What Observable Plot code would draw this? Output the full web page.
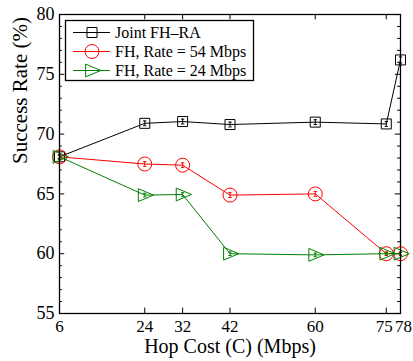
<!DOCTYPE html>
<html><head><meta charset="utf-8">
<script src="https://cdn.jsdelivr.net/npm/d3@7"></script>
<script src="https://cdn.jsdelivr.net/npm/@observablehq/plot@0.6"></script>
<style>
body{margin:0;background:#fff;}
#wrap{position:relative;width:413px;height:361px;font-family:"Liberation Serif","Times New Roman",serif;}
#legend{position:absolute;left:0;top:0;}
</style></head>
<body><div id="wrap"></div>
<script>
const hopCost = [6, 24, 32, 42, 60, 75, 78];
const jointFHRA = [68.1, 70.9, 71.05, 70.8, 71.0, 70.85, 76.2];
const fhRate54 = [68.1, 67.5, 67.4, 64.9, 65.0, 60.0, 60.0];
const fhRate24 = [68.1, 64.9, 64.95, 60.0, 59.9, 60.0, 60.0];
const errJoint = [0.2, 0.2, 0.2, 0.2, 0.2, 0.2, 0.25];
const err54 = [0.15, 0.2, 0.2, 0.2, 0.2, 0.15, 0.15];
const err24 = [0.1, 0.15, 0.15, 0.15, 0.15, 0.1, 0.1];
const seriesNames = ["Joint FH\u2013RA", "FH, Rate = 54 Mbps", "FH, Rate = 24 Mbps"];
const seriesColors = ["#000000", "#ff0000", "#008000"];
const yTicks = [55, 60, 65, 70, 75, 80];
const yMinorTicks = d3.range(56, 80).filter(v => v % 5 !== 0);
const xLabel = "Hop Cost (C) (Mbps)";
const yLabel = "Success Rate (%)";

const squareSym = {draw(ctx, size){ const r = Math.sqrt(size/Math.PI); ctx.moveTo(-r,-r); ctx.lineTo(r,-r); ctx.lineTo(r,r); ctx.lineTo(-r,r); ctx.closePath(); }};
const triRightSym = {draw(ctx, size){ const r = Math.sqrt(size/Math.PI); ctx.moveTo(-0.8*r,-0.8*r); ctx.lineTo(1.1*r,0); ctx.lineTo(-0.8*r,0.8*r); ctx.closePath(); }};
const circleSym = {draw(ctx, size){ const r = Math.sqrt(size/Math.PI); ctx.moveTo(r,0); ctx.arc(0,0,r,0,2*Math.PI); }};
const symbols = [squareSym, circleSym, triRightSym];
const symR = [5, 7, 8];

const values = [jointFHRA, fhRate54, fhRate24];
const errs = [errJoint, err54, err24];
const series = values.map((vals, s) => hopCost.map((x, i) => ({x, y: vals[i], e: errs[s][i]})));

const marks = [];
// ticks (inward)
marks.push(Plot.ruleX(hopCost, {x: d => d, y1: 55, y2: 55.45, stroke: "black"}));
marks.push(Plot.ruleX(hopCost, {x: d => d, y1: 80, y2: 79.55, stroke: "black"}));
marks.push(Plot.ruleY(yTicks, {y: d => d, x1: 6, x2: 7.1, stroke: "black"}));
marks.push(Plot.ruleY(yTicks, {y: d => d, x1: 78, x2: 76.9, stroke: "black"}));
marks.push(Plot.ruleY(yMinorTicks, {y: d => d, x1: 6, x2: 6.6, stroke: "black"}));
marks.push(Plot.ruleY(yMinorTicks, {y: d => d, x1: 78, x2: 77.4, stroke: "black"}));

series.forEach((data, s) => {
  const c = seriesColors[s];
  marks.push(Plot.line(data, {x: "x", y: "y", stroke: c, strokeWidth: 1}));
  marks.push(Plot.ruleX(data, {x: "x", y1: d => d.y - d.e, y2: d => d.y + d.e, stroke: c, strokeWidth: 1}));
  marks.push(Plot.link(data, {x1: d => d.x - 0.35, x2: d => d.x + 0.35, y1: d => d.y - d.e, y2: d => d.y - d.e, stroke: c, strokeWidth: 1}));
  marks.push(Plot.link(data, {x1: d => d.x - 0.35, x2: d => d.x + 0.35, y1: d => d.y + d.e, y2: d => d.y + d.e, stroke: c, strokeWidth: 1}));
  marks.push(Plot.dot(data, {x: "x", y: "y", symbol: () => symbols[s], r: symR[s], stroke: c, fill: "none", strokeWidth: 1}));
});

marks.push(Plot.frame({stroke: "black", strokeWidth: 1.3}));
const xTickMain = hopCost.slice(0, 5);
marks.push(Plot.axisX({ticks: xTickMain, tickSize: 0, tickPadding: 6, fontSize: 17, label: null, tickFormat: d => d}));
marks.push(Plot.axisX({ticks: [hopCost[5]], tickSize: 0, tickPadding: 6, fontSize: 17, label: null, tickFormat: d => d, dx: -2}));
marks.push(Plot.axisX({ticks: [hopCost[6]], tickSize: 0, tickPadding: 6, fontSize: 17, label: null, tickFormat: d => d, dx: 3}));
marks.push(Plot.axisY({ticks: yTicks, tickSize: 0, tickPadding: 5, fontSize: 18, label: null}));
marks.push(Plot.text([xLabel], {frameAnchor: "bottom", dy: 39.5, fontSize: 20, text: d => d}));
marks.push(Plot.text([yLabel], {frameAnchor: "left", dx: -39, rotate: -90, fontSize: 21, text: d => d}));

const chart = Plot.plot({
  width: 413, height: 361,
  marginLeft: 59, marginRight: 13, marginTop: 14, marginBottom: 48,
  style: {fontFamily: '"Liberation Serif","Times New Roman",serif', color: "black", background: "white", overflow: "visible"},
  x: {domain: [6, 78], axis: null},
  y: {domain: [55, 80], axis: null},
  symbol: {type: "identity"},
  marks
});
const wrap = document.getElementById("wrap");
wrap.appendChild(chart);

// legend overlay
const lg = d3.select(wrap).append("svg").attr("id", "legend").attr("width", 413).attr("height", 361)
  .style("font-family", '"Liberation Serif","Times New Roman",serif');
lg.append("rect").attr("x", 65.5).attr("y", 20.5).attr("width", 188).attr("height", 60)
  .attr("fill", "white").attr("stroke", "black").attr("stroke-width", 1.3);
const legSym = [d3.symbol(squareSym, Math.PI*25), d3.symbol(circleSym, Math.PI*49), d3.symbol(triRightSym, Math.PI*64)];
seriesNames.forEach((name, i) => {
  const cy = 32.5 + i * 19;
  const g = lg.append("g");
  g.append("line").attr("x1", 73).attr("x2", 110).attr("y1", cy).attr("y2", cy).attr("stroke", seriesColors[i]);
  g.append("path").attr("d", legSym[i]()).attr("transform", `translate(92,${cy})`).attr("fill", "none").attr("stroke", seriesColors[i]);
  g.append("text").attr("x", 115).attr("y", cy).attr("dy", "0.35em").attr("font-size", 16).text(name);
});
</script>
</body></html>
